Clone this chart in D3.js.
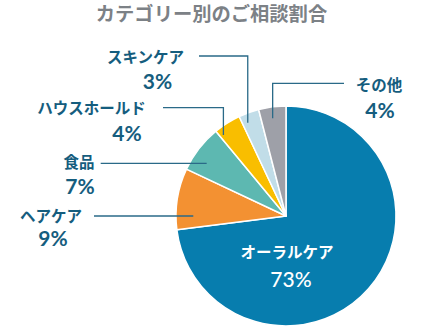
<!DOCTYPE html>
<html><head><meta charset="utf-8">
<script src="https://cdn.jsdelivr.net/npm/d3@7"></script>
<style>
html,body{margin:0;padding:0;background:#fff;}
svg{display:block;}
</style></head>
<body>
<svg id="chart" width="431" height="330"></svg>
<script>
const title = "カテゴリー別のご相談割合";
const categories = ["オーラルケア","ヘアケア","食品","ハウスホールド","スキンケア","その他"];
const values = [73, 9, 7, 4, 3, 4];
const colors = ["#077dae","#f39132","#5db8b1","#f9be00","#c1dde8","#9ea0a8"];

// annotation layout (not data)
const labelLayout = [
  {inside:true, lx:287, ly:258, px:291, py:287},
  {lx:51, ly:222, px:53, py:246, hy:216, x0:94, f:0.22, k:0.843},
  {lx:79, ly:168, px:80, py:194, hy:163.3, x0:100.7, f:0.33, k:0.865},
  {lx:91.5, ly:114, px:127, py:141, hy:107.7, x0:163, f:0.13, k:0.93},
  {lx:145.5, ly:63, px:157.5, py:89, hy:56, x0:199, f:0.27, k:0.917},
  {lx:379, ly:91, px:380, py:118, hy:83.3, x0:344, f:0.46, k:0.896}
];

const svg = d3.select("#chart");
const cx = 286, cy = 216, R = 110;
const textColor = "#155d7e";

svg.append("text").attr("x", 211.5).attr("y", 21)
  .attr("text-anchor","middle")
  .attr("font-family","'Noto Sans CJK JP', sans-serif")
  .attr("font-weight", 700).attr("font-size", 19.3)
  .attr("fill","#7c8186").text(title);

const pie = d3.pie().sort(null).value(d => d)(values);
const arc = d3.arc().innerRadius(0).outerRadius(R);
const g = svg.append("g").attr("transform", `translate(${cx},${cy})`);
g.selectAll("path").data(pie).join("path")
  .attr("d", arc).attr("fill", (d,i) => colors[i])
  .attr("stroke","#fff").attr("stroke-width",1.5).attr("stroke-linejoin","round");

const lineG = svg.append("g");
pie.forEach((d,i) => {
  const L = labelLayout[i];
  const inside = L.inside;
  const col = inside ? "#fff" : textColor;
  if (!inside) {
    const a = d.startAngle + L.f*(d.endAngle - d.startAngle);
    const ex = cx + L.k*R*Math.sin(a), ey = cy - L.k*R*Math.cos(a);
    const pts = Math.abs(ey - L.hy) < 1 ? [[L.x0, L.hy],[ex, L.hy]] : [[L.x0, L.hy],[ex, L.hy],[ex, ey]];
    lineG.append("path").attr("d", d3.line()(pts))
      .attr("fill","none").attr("stroke","#2a6a88").attr("stroke-width",1.3);
  }
  svg.append("text").attr("x", L.lx).attr("y", L.ly).attr("text-anchor","middle")
    .attr("font-family","'Noto Sans CJK JP', sans-serif").attr("font-weight",700)
    .attr("font-size",15.5).attr("fill",col).text(categories[i]);
  svg.append("text").attr("x", L.px).attr("y", L.py).attr("text-anchor","middle")
    .attr("font-family","Lato, sans-serif").attr("font-weight",inside?500:700)
    .attr("font-size",21).attr("fill",col).text(values[i] + "%");
});
</script>
</body></html>
